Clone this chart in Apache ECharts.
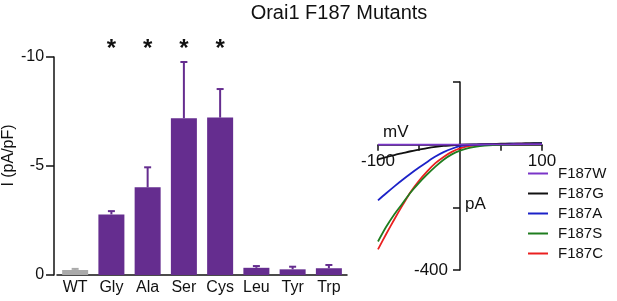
<!DOCTYPE html>
<html><head><meta charset="utf-8">
<script src="https://cdn.jsdelivr.net/npm/echarts@6/dist/echarts.min.js"></script>
<style>html,body{margin:0;padding:0;background:#fff}#c{width:617px;height:301px}</style>
</head><body><div id="c"></div>
<script>
// ---- Bar chart data (current density, pA/pF) ----
const categories = ['WT', 'Gly', 'Ala', 'Ser', 'Cys', 'Leu', 'Tyr', 'Trp'];
const currentDensity = [-0.23, -2.78, -4.02, -7.19, -7.22, -0.33, -0.26, -0.31];
const currentSEM = [0.05, 0.15, 0.92, 2.58, 1.31, 0.08, 0.12, 0.15];
const significant = [false, true, true, true, true, false, false, false];
const controlCategory = 'WT';

// ---- I-V curves (mV vs pA) ----
const voltage = [-100, -90, -80, -70, -60, -50, -40, -30, -20, -10, 0, 10, 20, 30, 40, 50, 60, 70, 80, 90, 100];
const iF187W = [0, 0, 0, 0, 0, 0, 0, 0, 0, 0, 0, 0, 0, 1, 1, 1, 1, 2, 2, 2, 2];
const iF187G = [-47, -40, -33, -27, -21, -16, -11, -7, -4, -2, 0, 1, 1, 2, 2, 3, 3, 3, 4, 4, 4];
const iF187A = [-178, -155, -133, -112, -92, -73, -55, -38, -24, -13, -5, -1, 0, 1, 2, 2, 3, 3, 3, 4, 4];
const iF187S = [-309, -262, -222, -187, -152, -122, -95, -70, -48, -31, -19, -11, -6, -3, -1, 0, 1, 2, 3, 4, 5];
const iF187C = [-334, -285, -238, -193, -150, -115, -85, -59, -39, -23, -12, -5, -2, 0, 1, 2, 2, 3, 3, 4, 4];
const ivNames = ['F187W', 'F187G', 'F187A', 'F187S', 'F187C'];
const ivData = [iF187W, iF187G, iF187A, iF187S, iF187C];
const ivColors = ['#7a35c8', '#111111', '#1c22c8', '#1f7d1f', '#ea2020'];

const FONT = '"Liberation Sans", Arial, sans-serif';
const PURPLE = '#652d8f';
const GRAY = '#aaaaaa';
const colorFor = i => categories[i] === controlCategory ? GRAY : PURPLE;

// IV grid geometry
const IV = {left: 378, top: 82, width: 164, height: 188, xMin: -100, xMax: 100, yMin: -400, yMax: 200};
const ivZeroFromBottom = IV.height * (0 - IV.yMin) / (IV.yMax - IV.yMin);
const ivZeroFromLeft = IV.width * (0 - IV.xMin) / (IV.xMax - IV.xMin);

const chart = echarts.init(document.getElementById('c'), null, {renderer: 'canvas'});

const ivSeries = ivNames.map((n, k) => ({
  name: n, type: 'line', xAxisIndex: 1, yAxisIndex: 1,
  data: voltage.map((v, i) => [v, ivData[k][i]]),
  symbol: 'none', smooth: 0.3,
  lineStyle: {color: ivColors[k], width: 1.8}, itemStyle: {color: ivColors[k]},
  z: 3, silent: true
}));
ivSeries.reverse();

chart.setOption({
  animation: false,
  textStyle: {fontFamily: FONT},
  title: {text: 'Orai1 F187 Mutants', left: 334, top: -2, textAlign: 'center',
    textStyle: {fontSize: 20, fontWeight: 'normal', color: '#111', fontFamily: FONT}},
  grid: [
    {left: 56, top: 57, width: 291, height: 218},
    {left: IV.left, top: IV.top, width: IV.width, height: IV.height}
  ],
  legend: {
    data: ivNames, orient: 'vertical', left: 527, top: 166, padding: 0,
    itemWidth: 20, itemHeight: 14, itemGap: 5,
    itemStyle: {opacity: 0},
    textStyle: {fontSize: 15, color: '#111', fontFamily: FONT, padding: [0, 0, 0, 5]}
  },
  xAxis: [
    {gridIndex: 0, type: 'category', data: categories,
     axisLine: {lineStyle: {color: '#111', width: 1.5}},
     axisTick: {show: false},
     axisLabel: {fontSize: 16, color: '#111', margin: 5, interval: 0}},
    {gridIndex: 1, type: 'value', min: IV.xMin, max: IV.xMax, interval: 50,
     position: 'bottom', offset: -ivZeroFromBottom,
     axisLine: {onZero: false, lineStyle: {color: '#111', width: 1.5}},
     axisTick: {length: 6, lineStyle: {color: '#111', width: 1.5}},
     splitLine: {show: false},
     axisLabel: {fontSize: 17, color: '#111', margin: 8,
       formatter: v => (v === -100 || v === 100) ? String(v) : ''}}
  ],
  yAxis: [
    {gridIndex: 0, type: 'value', min: -10, max: 0, interval: 5, inverse: true, offset: 3,
     name: 'I (pA/pF)', nameLocation: 'middle', nameGap: 37,
     nameTextStyle: {fontSize: 16, color: '#111', padding: [0, 0, 0, 21]},
     axisLine: {show: true, lineStyle: {color: '#111', width: 1.5}},
     axisTick: {show: true, length: 8, lineStyle: {color: '#111', width: 1.5}},
     splitLine: {show: false},
     axisLabel: {fontSize: 16, color: '#111', margin: 10}},
    {gridIndex: 1, type: 'value', min: IV.yMin, max: IV.yMax, interval: 200,
     position: 'left', offset: -ivZeroFromLeft,
     axisLine: {show: true, onZero: false, lineStyle: {color: '#111', width: 1.5}},
     axisTick: {show: true, length: 7, lineStyle: {color: '#111', width: 1.5}},
     splitLine: {show: false},
     axisLabel: {fontSize: 17, color: '#111', margin: 12,
       formatter: v => v === -400 ? String(v) : ''}}
  ],
  graphic: [
    {type: 'text', left: 383, top: 124, style: {text: 'mV', fill: '#111', font: '17px ' + FONT}},
    {type: 'text', left: 465, top: 196, style: {text: 'pA', fill: '#111', font: '17px ' + FONT}}
  ],
  series: [
    {type: 'bar', xAxisIndex: 0, yAxisIndex: 0, data: currentDensity, barWidth: 26,
     itemStyle: {color: p => colorFor(p.dataIndex)}, silent: true},
    {type: 'custom', xAxisIndex: 0, yAxisIndex: 0, silent: true,
     data: currentDensity.map((v, i) => [i, v, currentSEM[i], significant[i] ? 1 : 0]),
     renderItem: (params, api) => {
       const i = api.value(0), v = api.value(1), e = api.value(2), s = api.value(3);
       const base = api.coord([i, v]);
       const top = api.coord([i, v - e]);
       const col = colorFor(i);
       const children = [
         {type: 'line', shape: {x1: base[0], y1: base[1], x2: top[0], y2: top[1]}, style: {stroke: col, lineWidth: 2}},
         {type: 'line', shape: {x1: top[0] - 3.5, y1: top[1], x2: top[0] + 3.5, y2: top[1]}, style: {stroke: col, lineWidth: 2}}
       ];
       if (s) {
         const a = api.coord([i, -10]);
         children.push({type: 'text', x: a[0], y: a[1] - 8,
           style: {text: '*', fill: '#111', font: 'bold 24px ' + FONT, align: 'center', verticalAlign: 'middle'}});
       }
       return {type: 'group', children};
     }},
    ...ivSeries
  ]
});
</script></body></html>
